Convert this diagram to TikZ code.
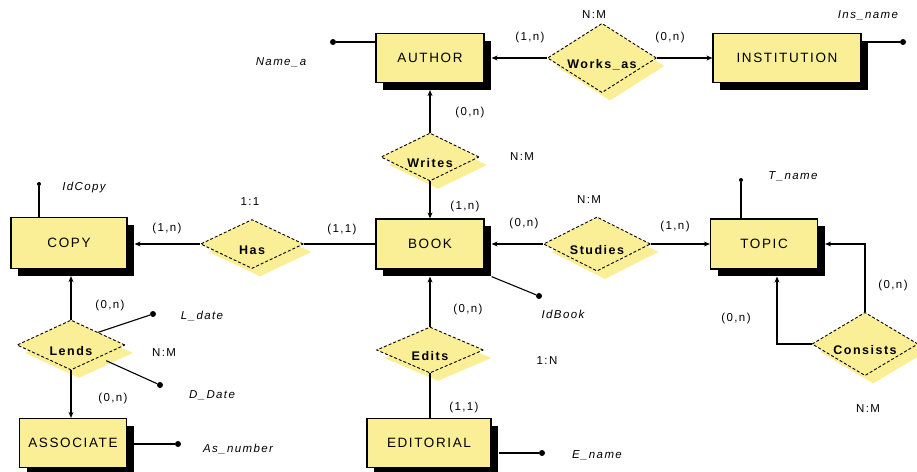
\documentclass[tikz,border=0pt]{standalone}
\usepackage{fontspec}
\setmainfont{Liberation Sans}
\newfontfamily\erfont[LetterSpace=12]{Liberation Sans}
\usepackage{tikz}
\usetikzlibrary{shapes.geometric,shadows,arrows.meta}
\definecolor{erfill}{RGB}{250,238,150}
\newcommand{\reltext}[1]{\raisebox{-10pt}[0pt][0pt]{#1}}

\begin{document}
\begin{tikzpicture}[x=1pt,y=-1pt,
    >={Stealth[length=6pt,width=5pt]},
    entity/.style={draw, line width=1.2pt, fill=erfill, minimum height=49pt, inner sep=2pt,
        font=\erfont\fontsize{13.5}{15}\selectfont,
        drop shadow={shadow xshift=7pt, shadow yshift=-7pt, fill=black, opacity=1}},
    rel/.style={diamond, draw, densely dashed, line width=0.9pt, fill=erfill, inner sep=0pt,
        font=\erfont\bfseries\fontsize{12.5}{14}\selectfont,
        drop shadow={shadow xshift=8pt, shadow yshift=-8pt, fill=erfill, opacity=1}},
    conn/.style={line width=1.1pt},
    attr/.style={circle, fill, inner sep=0pt, minimum size=6pt},
    keyattr/.style={circle, fill, inner sep=0pt, minimum size=4pt},
    attrlbl/.style={font=\erfont\itshape\fontsize{11.5}{13}\selectfont},
    card/.style={font=\erfont\fontsize{11.5}{13}\selectfont}]
    \useasboundingbox (0,0) rectangle (917,471);
    % Entities
    \node[entity, minimum width=108pt] (author) at (430,58) {AUTHOR};
    \node[entity, minimum width=148pt] (institution) at (787,58) {INSTITUTION};
    \node[entity, minimum width=116pt, minimum height=51pt] (copy) at (69,243) {COPY};
    \node[entity, minimum width=108pt, minimum height=50pt] (book) at (430,244) {BOOK};
    \node[entity, minimum width=107pt, minimum height=50pt] (topic) at (764,244) {TOPIC};
    \node[entity, minimum width=107pt] (associate) at (73,443) {ASSOCIATE};
    \node[entity, minimum width=124pt] (editorial) at (429,443) {EDITORIAL};
    % Relationships
    \node[rel, minimum width=109pt, minimum height=50pt] (works) at (602,58) {\reltext{Works\_as}};
    \node[rel, minimum width=98pt, minimum height=48pt] (writes) at (430,157) {\reltext{Writes}};
    \node[rel, minimum width=103pt, minimum height=49pt] (has) at (252,244) {\reltext{Has}};
    \node[rel, minimum width=107pt, minimum height=50pt] (studies) at (597,244) {\reltext{Studies}};
    \node[rel, minimum width=108pt, minimum height=50pt] (lends) at (71,345) {\reltext{Lends}};
    \node[rel, minimum width=107pt, minimum height=46pt] (edits) at (430,350) {\reltext{Edits}};
    \node[rel, minimum width=106pt, minimum height=49pt] (consists) at (865,344) {\reltext{Consists}};
    % Connections
    \draw[conn,->] (works.west) -- ([xshift=7pt]author.east);
    \draw[conn,->] (works.east) -- (institution.west);
    \draw[conn,->] (writes.north) -- ([yshift=-7pt]author.south);
    \draw[conn,->] (writes.south) -- (book.north);
    \draw[conn,->] (has.west) -- ([xshift=7pt]copy.east |- has.west);
    \draw[conn] (has.east) -- (book.west);
    \draw[conn,->] (studies.west) -- ([xshift=7pt]book.east);
    \draw[conn,->] (studies.east) -- (topic.west);
    \draw[conn,->] (lends.north) -- ([yshift=-7pt]lends.north |- copy.south);
    \draw[conn,->] (lends.south) -- (lends.south |- associate.north);
    \draw[conn,->] (edits.north) -- ([yshift=-7pt]book.south);
    \draw[conn] (edits.south) -- (edits.south |- editorial.north);
    \coordinate (topicin) at ([xshift=13pt]topic.south);
    \draw[conn,->] (consists.west) -| ([yshift=-7pt]topicin);
    \draw[conn,->] (consists.north) |- ([xshift=7pt]topic.east);
    % Attributes
    \node[attr] (nameadot) at (333,42) {};
    \draw[conn] (author.west |- nameadot) -- (nameadot);
    \node[attrlbl] (namea) at (281,62) {Name\_a};
    \node[attr] (insdot) at (903,42) {};
    \draw[conn] (institution.east |- insdot) -- (insdot);
    \node[attrlbl] (insname) at (868,15) {Ins\_name};
    \node[keyattr] (idcopydot) at (39,184) {};
    \draw[conn] (idcopydot) -- (idcopydot |- copy.north);
    \node[attrlbl] (idcopy) at (84,188) {IdCopy};
    \node[keyattr] (tnamedot) at (741,180) {};
    \draw[conn] (tnamedot) -- (tnamedot |- topic.north);
    \node[attrlbl] (tname) at (793,176) {T\_name};
    \node[attr] (idbookdot) at (539,296) {};
    \draw[conn] ([xshift=7pt,yshift=-7pt]book.south east) -- (idbookdot);
    \node[attrlbl] (idbook) at (563,314) {IdBook};
    \node[attr] (ldatedot) at (153,314) {};
    \draw[conn] (lends.north east) -- (ldatedot);
    \node[attrlbl] (ldate) at (202,316) {L\_date};
    \node[attr] (ddatedot) at (160,385) {};
    \draw[conn] ([shift={(8,3)}]lends.south east) -- (ddatedot);
    \node[attrlbl] (ddate) at (212,395) {D\_Date};
    \node[attr] (asnumdot) at (178,444) {};
    \draw[conn] ([xshift=7pt]associate.east |- asnumdot) -- (asnumdot);
    \node[attrlbl] (asnum) at (238,449) {As\_number};
    \node[attr] (enamedot) at (542,453) {};
    \draw[conn] ([xshift=7pt]editorial.east |- enamedot) -- (enamedot);
    \node[attrlbl] (ename) at (597,455) {E\_name};
    % Cardinalities
    \node[card] (c1) at (594,15) {N:M};
    \node[card] (c2) at (530,38) {(1,n)};
    \node[card] (c3) at (670,38) {(0,n)};
    \node[card] (c4) at (470,113) {(0,n)};
    \node[card] (c5) at (522,157) {N:M};
    \node[card] (c6) at (465,207) {(1,n)};
    \node[card] (c7) at (250,202) {1:1};
    \node[card] (c8) at (167,229) {(1,n)};
    \node[card] (c9) at (342,230) {(1,1)};
    \node[card] (c10) at (589,200) {N:M};
    \node[card] (c11) at (524,224) {(0,n)};
    \node[card] (c12) at (675,227) {(1,n)};
    \node[card] (c13) at (893,286) {(0,n)};
    \node[card] (c14) at (736,319) {(0,n)};
    \node[card] (c15) at (868,409) {N:M};
    \node[card] (c16) at (468,310) {(0,n)};
    \node[card] (c17) at (547,361) {1:N};
    \node[card] (c18) at (464,408) {(1,1)};
    \node[card] (c19) at (110,306) {(0,n)};
    \node[card] (c20) at (164,353) {N:M};
    \node[card] (c21) at (113,399) {(0,n)};
\end{tikzpicture}
\end{document}
